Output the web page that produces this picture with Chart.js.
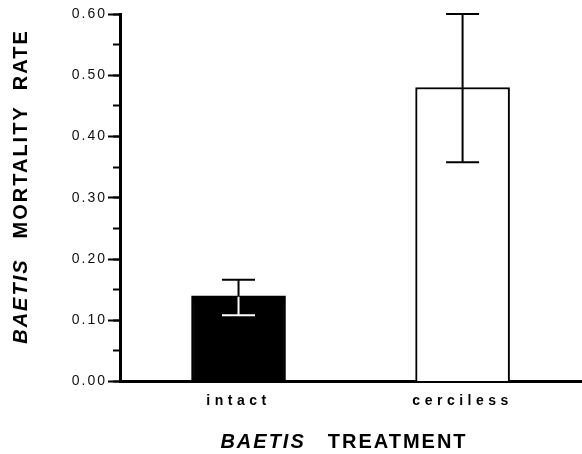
<!DOCTYPE html>
<html><head><meta charset="utf-8">
<script src="https://cdn.jsdelivr.net/npm/chart.js@4/dist/chart.umd.min.js"></script>
<style>html,body{margin:0;padding:0;background:#fff}#wrap{width:582px;height:454px}</style>
</head><body><div id="wrap"><canvas id="c" width="582" height="454"></canvas></div>
<script>
const categories = ['intact', 'cerciless'];
const mortality = [0.140, 0.480];
const errLow = [0.108, 0.358];
const errHigh = [0.166, 0.600];
const barColors = ['#000000', '#ffffff'];
const yTitle = ['BAETIS', 'MORTALITY  RATE'];
const xTitle = ['BAETIS', 'TREATMENT'];

const FONT = "'Liberation Sans', Arial, Helvetica, sans-serif";

const spacingPlugin = {
  id: 'spacing',
  beforeDraw(chart) {
    const sp = { y: '2px', x: '4.5px' };
    for (const id in sp) {
      const s = chart.scales[id];
      if (s && !s._patched) {
        const orig = s.drawLabels.bind(s);
        s.drawLabels = function (a) {
          const c = chart.ctx; c.save(); c.letterSpacing = sp[id]; orig(a); c.restore();
        };
        s._patched = true;
      }
    }
  }
};

const errPlugin = {
  id: 'err',
  afterDatasetsDraw(chart) {
    const ctx = chart.ctx, ys = chart.scales.y;
    const meta = chart.getDatasetMeta(0);
    meta.data.forEach((bar, i) => {
      const p = bar.getProps(['x', 'y', 'base', 'width'], true);
      const x = p.x;
      const yt = ys.getPixelForValue(errHigh[i]);
      const yb = ys.getPixelForValue(errLow[i]);
      const cap = 16.5;
      const draw = (color) => {
        ctx.strokeStyle = color; ctx.lineWidth = 2; ctx.lineCap = 'butt';
        ctx.beginPath();
        ctx.moveTo(x, yt); ctx.lineTo(x, yb);
        ctx.moveTo(x - cap, yt); ctx.lineTo(x + cap, yt);
        ctx.moveTo(x - cap, yb); ctx.lineTo(x + cap, yb);
        ctx.stroke();
      };
      ctx.save();
      draw('#000');
      if (barColors[i] === '#000000') {
        ctx.beginPath();
        ctx.rect(p.x - p.width / 2 + 1, p.y + 1, p.width - 2, p.base - p.y - 2);
        ctx.clip();
        draw('#fff');
      }
      ctx.restore();
    });
  }
};

function measureSegs(ctx, segs) {
  return segs.map(s => {
    ctx.font = (s.italic ? 'italic ' : '') + 'bold 20px ' + FONT;
    return ctx.measureText(s.text).width;
  });
}
function drawSegs(ctx, segs, gap) {
  const w = measureSegs(ctx, segs);
  const total = w.reduce((a, b) => a + b, 0) + gap * (segs.length - 1);
  let pos = -total / 2;
  segs.forEach((s, i) => {
    ctx.font = (s.italic ? 'italic ' : '') + 'bold 20px ' + FONT;
    ctx.fillText(s.text, pos, 0);
    pos += w[i] + gap;
  });
}

const titlePlugin = {
  id: 'titles',
  afterDraw(chart) {
    const ctx = chart.ctx;
    ctx.save();
    ctx.letterSpacing = '2px';
    ctx.fillStyle = '#000';
    ctx.textBaseline = 'alphabetic';
    ctx.textAlign = 'left';
    ctx.save();
    ctx.translate(27, 186.5);
    ctx.rotate(-Math.PI / 2);
    drawSegs(ctx, [{ text: yTitle[0], italic: true }, { text: yTitle[1] }], 20);
    ctx.restore();
    ctx.save();
    ctx.translate(344, 448);
    drawSegs(ctx, [{ text: xTitle[0], italic: true }, { text: xTitle[1] }], 22);
    ctx.restore();
    ctx.restore();
  }
};

new Chart(document.getElementById('c'), {
  type: 'bar',
  data: {
    datasets: [{
      data: categories.map((c, i) => ({ x: i, y: mortality[i] })),
      backgroundColor: barColors,
      borderColor: '#000',
      borderWidth: 2,
      barThickness: 94
    }]
  },
  options: {
    responsive: false,
    animation: false,
    devicePixelRatio: 1,
    layout: { padding: { top: 14, left: 0, right: 0, bottom: 0 } },
    plugins: { legend: { display: false }, tooltip: { enabled: false }, title: { display: false } },
    scales: {
      x: {
        type: 'linear',
        offset: false,
        min: -0.529,
        max: 1.533,
        afterBuildTicks: s => { s.ticks = categories.map((c, i) => ({ value: i })); },
        afterFit: s => { s.height = 72.5; },
        grid: { display: false, drawTicks: false, tickLength: 0, offset: false },
        border: { display: true, width: 3, color: '#000' },
        ticks: {
          callback: v => categories[v],
          font: { family: FONT, size: 14, weight: 'bold' },
          color: '#000',
          padding: 11,
          maxRotation: 0,
          autoSkip: false
        }
      },
      y: {
        position: 'left',
        weight: 1,
        min: 0,
        max: 0.6,
        afterFit: s => { s.width = 120; },
        ticks: {
          stepSize: 0.1,
          callback: v => Number(v).toFixed(2),
          font: { family: FONT, size: 14 },
          color: '#111',
          padding: 1
        },
        grid: { display: true, drawOnChartArea: false, drawTicks: true, tickLength: 12, tickWidth: 2, tickColor: '#000' },
        border: { display: true, width: 3, color: '#000' }
      },
      y2: {
        position: 'left',
        weight: 0,
        min: 0,
        max: 0.6,
        afterFit: s => { s.width = 0; },
        ticks: { stepSize: 0.05, display: false },
        grid: { display: true, drawOnChartArea: false, drawTicks: true, tickLength: 7, tickWidth: 2, tickColor: '#000' },
        border: { display: false }
      }
    }
  },
  plugins: [spacingPlugin, errPlugin, titlePlugin]
});
</script>
</body></html>
